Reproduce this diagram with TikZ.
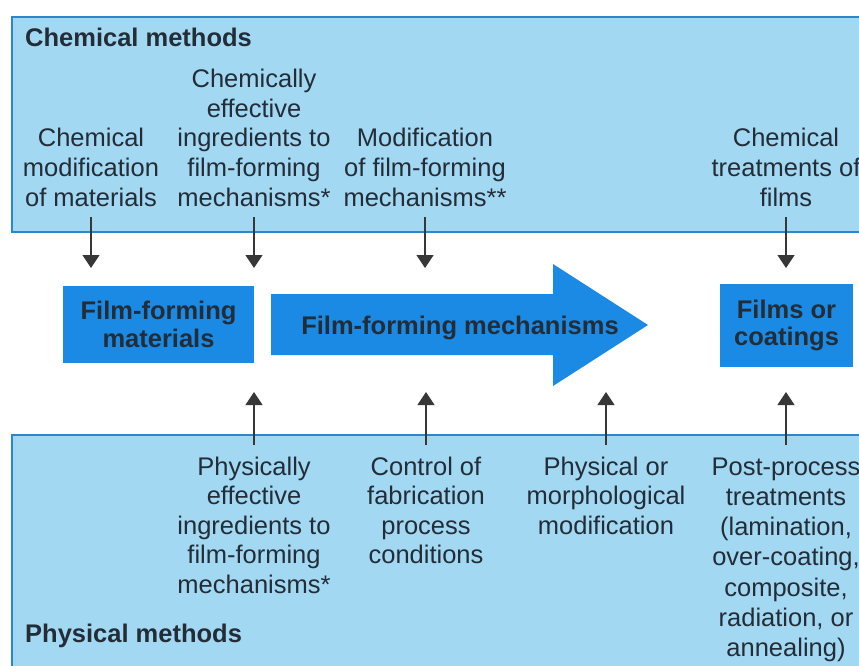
\documentclass[tikz,border=0pt]{standalone}
\usepackage{fontspec}
\setmainfont{Liberation Sans}
\usetikzlibrary{arrows.meta}
\definecolor{panelfill}{RGB}{163,216,243}
\definecolor{panelline}{RGB}{45,135,205}
\definecolor{stageblue}{RGB}{26,138,228}
\definecolor{ink}{RGB}{35,45,55}
\definecolor{arrowgray}{RGB}{55,55,55}
\begin{document}
% multi-line labels are placed by the baseline of their last line
\begin{tikzpicture}[x=1pt,y=-1pt,
  panel/.style={fill=panelfill,draw=panelline,line width=1.2pt},
  label/.style={align=center,text=ink,font=\fontsize{25.5}{29.6}\selectfont,inner sep=0pt,anchor=base},
  heading/.style={text=ink,font=\bfseries\fontsize{25.5}{29.6}\selectfont,inner sep=0pt,anchor=base west},
  stage/.style={fill=stageblue,text=ink,align=center,font=\bfseries\fontsize{25.5}{27.5}\selectfont,inner sep=0pt},
  feed/.style={draw=arrowgray,line width=1.3pt,-{Triangle[width=17pt,length=13pt]}}]
\clip (0,0) rectangle (859,665);
\fill[white] (0,0) rectangle (859,665);

% method panels (they run past the right edge)
\draw[panel] (12,17) rectangle (880,232);
\draw[panel] (12,435) rectangle (880,690);
\node[heading] (chem) at (25,46) {Chemical methods};
\node[heading] (phys) at (25,642) {Physical methods};

% rows where the feed arrows start and end
\coordinate (toprow) at (0,217);
\coordinate (tiprow) at (0,268);
\coordinate (botrow) at (0,445);
\coordinate (uprow) at (0,392);

% central stages
\node[stage,minimum width=191pt,minimum height=77pt] (mat) at (158.5,324.5) {Film-forming\\materials};
\fill[stageblue] (271,294) -- (553,294) -- (553,264) -- (648,325) -- (553,386) -- (553,355) -- (271,355) -- cycle;
\node[text=ink,font=\bfseries\fontsize{25.5}{27.5}\selectfont,inner sep=0pt,anchor=base] (mech) at (460,334) {Film-forming mechanisms};
\node[stage,minimum width=133pt,minimum height=83pt] (film) at (786.5,325.5) {Films or\\coatings};

% chemical methods
\node[label] (cm) at (91,206) {Chemical\\modification\\of materials};
\node[label] (ce) at (254,206) {Chemically\\effective\\ingredients to\\film-forming\\mechanisms*};
\node[label] (mf) at (425,206) {Modification\\of film-forming\\mechanisms**};
\node[label] (ct) at (786,206) {Chemical\\treatments of\\films};

% physical methods
\node[label] (pe) at (254,593.4) {Physically\\effective\\ingredients to\\film-forming\\mechanisms*};
\node[label] (cf) at (426,563.8) {Control of\\fabrication\\process\\conditions};
\node[label] (pm) at (606,534.2) {Physical or\\morphological\\modification};
\node[label,font=\fontsize{25.5}{30.3}\selectfont] (pp) at (786,656.8) {Post-process\\treatments\\(lamination,\\over-coating,\\composite,\\radiation, or\\annealing)};

% feed arrows
\foreach \n in {cm,ce,mf,ct}
  \draw[feed] (\n.south |- toprow) -- (\n.south |- tiprow);
\foreach \n in {pe,cf,pm,pp}
  \draw[feed] (\n.north |- botrow) -- (\n.north |- uprow);
\end{tikzpicture}
\end{document}
